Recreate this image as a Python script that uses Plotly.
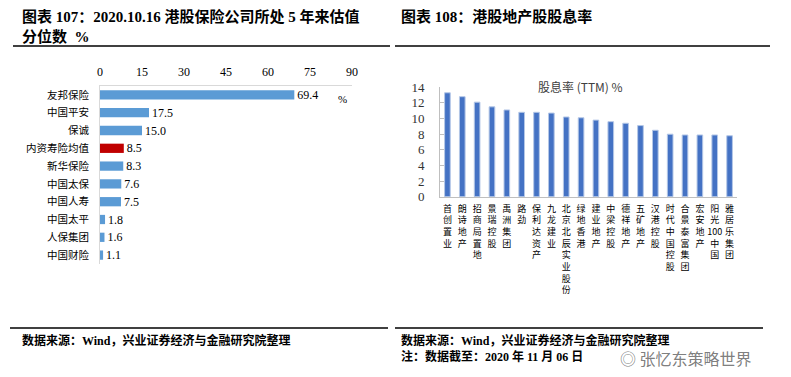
import plotly.graph_objects as go

# Left chart data
ins_names = ["友邦保险", "中国平安", "保诚", "内资寿险均值", "新华保险", "中国太保", "中国人寿", "中国太平", "人保集团", "中国财险"]
ins_values = [69.4, 17.5, 15.0, 8.5, 8.3, 7.6, 7.5, 1.8, 1.6, 1.1]
left_ticks = [0, 15, 30, 45, 60, 75, 90]

# Right chart data
re_names = ["首创置业", "朗诗地产", "招商局置地", "景瑞控股", "禹洲集团", "路劲", "保利达资产", "九龙建业",
            "北京北辰实业股份", "绿地香港", "建业地产", "中梁控股", "德祥地产", "五矿地产", "汉港控股",
            "时代中国控股", "合景泰富集团", "宏安地产", "阳光100中国", "雅居乐集团"]
re_values = [13.3, 12.8, 12.1, 11.5, 11.1, 10.8, 10.8, 10.7, 10.2, 10.1, 9.8, 9.6, 9.4, 9.1, 8.5, 8.0, 7.9, 7.9, 7.9, 7.8]
right_ticks = [0, 2, 4, 6, 8, 10, 12, 14]

# page body has an 8px margin; compensate so the figure lines up with the window
OFF = 8
W, H = 791 - OFF, 377 - OFF
def px(x):
    return (x - OFF) / W
def py(y):
    return 1 - (y - OFF) / H

SERIF = "Liberation Serif, Noto Sans CJK SC"
CJK = "Noto Sans CJK SC, Liberation Serif"

def vert(s):
    parts = []
    i = 0
    while i < len(s):
        if s[i].isdigit():
            j = i
            while j < len(s) and s[j].isdigit():
                j += 1
            parts.append(s[i:j])
            i = j
        else:
            parts.append(s[i])
            i += 1
    return "<br>".join(parts)

fig = go.Figure()

colors = ["#C00000" if n == "内资寿险均值" else "#5B9BD5" for n in ins_names]
fig.add_trace(go.Bar(
    x=ins_values, y=ins_names, orientation="h",
    marker=dict(color=colors, line=dict(width=0)),
    text=[f"{v:.1f}" for v in ins_values], textposition="outside",
    textfont=dict(family=SERIF, size=12, color="#000"),
    constraintext="none",
    cliponaxis=False,
    xaxis="x", yaxis="y", showlegend=False, width=0.52,
))

fig.add_trace(go.Bar(
    x=list(range(len(re_names))), y=re_values,
    marker=dict(color="#4472C4", line=dict(width=1, color="#B4C7E7")),
    xaxis="x2", yaxis="y2", showlegend=False, width=0.38,
))

fig.update_layout(
    template="none",
    width=W, height=H,
    margin=dict(l=0, r=0, t=0, b=0, pad=0, autoexpand=False),
    paper_bgcolor="white", plot_bgcolor="white",
    font=dict(family=SERIF, size=11, color="#000"),
    xaxis=dict(domain=[px(100), px(352)], range=[0, 90], side="top", anchor="y", automargin=False,
               tickvals=left_ticks, ticktext=[str(t) for t in left_ticks],
               showgrid=False, zeroline=False, showline=True, linecolor="#D9D9D9", linewidth=1,
               ticks="", ticklabelstandoff=4, tickfont=dict(family=SERIF, size=12, color="#000")),
    yaxis=dict(domain=[py(264), py(86)], anchor="x", autorange="reversed", type="category",
               automargin=False,
               showgrid=False, zeroline=False, showline=True, linecolor="#D9D9D9", linewidth=1,
               ticks="", ticklabelstandoff=8,
               tickfont=dict(family=CJK, size=10.5, color="#000")),
    xaxis2=dict(domain=[px(440), px(737)], range=[-0.5, 19.5], anchor="y2", automargin=False,
                tickvals=list(range(len(re_names))), ticktext=[vert(n) for n in re_names],
                tickangle=0, showgrid=False, zeroline=False, showline=True,
                linecolor="#BFBFBF", linewidth=1, ticks="", ticklabelstandoff=3,
                tickfont=dict(family=CJK, size=9, color="#000")),
    yaxis2=dict(domain=[py(196.7), py(87.3)], range=[0, 14], anchor="x2", automargin=False,
                tickvals=right_ticks, showgrid=False, zeroline=False, showline=True,
                linecolor="#BFBFBF", linewidth=1, ticks="inside", ticklen=4, tickcolor="#BFBFBF",
                ticklabelstandoff=12,
                tickfont=dict(family=SERIF, size=13, color="#333")),
)

ann = []
def A(x, y, text, size=12, color="#000", family=CJK, xanchor="left", **kw):
    ann.append(dict(x=px(x), y=py(y), xref="paper", yref="paper", text=text, showarrow=False,
                    xanchor=xanchor, yanchor="middle", font=dict(family=family, size=size, color=color), **kw))

A(20, 16, "<b>图表 107：2020.10.16 港股保险公司所处 5 年来估值</b>", size=15, family=SERIF)
A(20, 37, "<b>分位数  %</b>", size=15, family=SERIF)
A(399, 16, "<b>图表 108：港股地产股股息率</b>", size=15, family=SERIF)
A(336, 99, "%", size=11, family=SERIF)
A(580, 87, "股息率 (TTM) %", size=12, color="#404040", xanchor="center")
A(20, 340, "<b>数据来源：Wind，兴业证券经济与金融研究院整理</b>", size=12, family=SERIF)
A(399, 340, "<b>数据来源：Wind，兴业证券经济与金融研究院整理</b>", size=12, family=SERIF)
A(399, 356, "<b>注：数据截至：2020 年 11 月 06 日</b>", size=12, family=SERIF)
A(618, 358, "◎ 张忆东策略世界", size=16, color="rgba(110,110,110,0.9)")
fig.update_layout(annotations=ann)

shapes = [
    dict(type="line", xref="paper", yref="paper", x0=px(13), x1=px(390), y0=py(46), y1=py(46), line=dict(color="#000", width=1.5)),
    dict(type="line", xref="paper", yref="paper", x0=px(395), x1=px(770), y0=py(46), y1=py(46), line=dict(color="#000", width=1.5)),
    dict(type="line", xref="paper", yref="paper", x0=px(10), x1=px(388), y0=py(328), y1=py(328), line=dict(color="#000", width=1.5)),
    dict(type="line", xref="paper", yref="paper", x0=px(395), x1=px(763), y0=py(328), y1=py(328), line=dict(color="#000", width=1.5)),
]
fig.update_layout(shapes=shapes)

fig.write_html("out.html")
